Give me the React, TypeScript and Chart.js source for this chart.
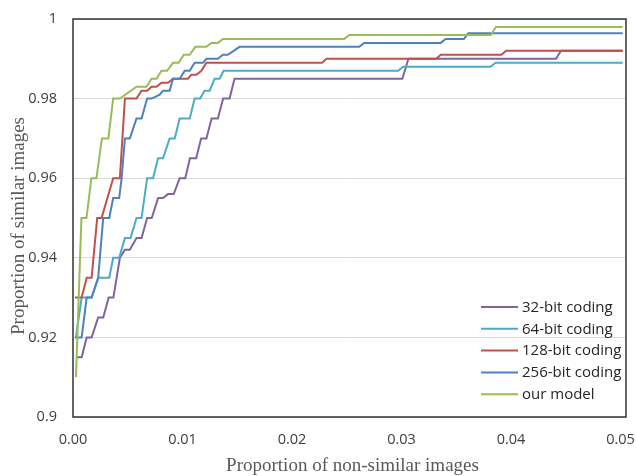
import React, { useEffect, useRef } from "react";
import { Chart, registerables } from "chart.js";

Chart.register(...registerables);

// ---------- data ----------
const SERIES_LABELS = ["32-bit coding", "64-bit coding", "128-bit coding", "256-bit coding", "our model"];
const SERIES_COLORS = ["#8064a2", "#4bacc6", "#c0504d", "#4f81bd", "#9bbb59"];

const X_TICKS = [0, 0.01, 0.02, 0.03, 0.04, 0.05];
const Y_TICKS = [0.9, 0.92, 0.94, 0.96, 0.98, 1];

const X_TITLE = "Proportion of non-similar images";
const Y_TITLE = "Proportion of similar images";

const bit32X = [0.00027, 0.00079, 0.00125, 0.0017, 0.0023, 0.00276, 0.00326, 0.00369, 0.00428, 0.00474, 0.00519, 0.0058, 0.00626, 0.00677, 0.00719, 0.00777, 0.00822, 0.00868, 0.0092, 0.00974, 0.01025, 0.01068, 0.01125, 0.0117, 0.01218, 0.01266, 0.01323, 0.01371, 0.0143, 0.01475, 0.03008, 0.03063, 0.04411, 0.04456, 0.0502];
const bit32Y = [0.915, 0.915, 0.92, 0.92, 0.925, 0.925, 0.93, 0.93, 0.94, 0.942, 0.942, 0.945, 0.945, 0.95, 0.95, 0.955, 0.955, 0.956, 0.956, 0.96, 0.96, 0.965, 0.965, 0.97, 0.97, 0.975, 0.975, 0.98, 0.98, 0.985, 0.985, 0.99, 0.99, 0.992, 0.992];

const bit64X = [0.00027, 0.00079, 0.0017, 0.0023, 0.00331, 0.00367, 0.00422, 0.00474, 0.00526, 0.0058, 0.00626, 0.00677, 0.00731, 0.00777, 0.00822, 0.00883, 0.00929, 0.00974, 0.01066, 0.01111, 0.01161, 0.01202, 0.01248, 0.01293, 0.01339, 0.01375, 0.02969, 0.03015, 0.03813, 0.03859, 0.0502];
const bit64Y = [0.92, 0.93, 0.93, 0.935, 0.935, 0.94, 0.94, 0.945, 0.945, 0.95, 0.95, 0.96, 0.96, 0.965, 0.965, 0.97, 0.97, 0.975, 0.975, 0.98, 0.98, 0.982, 0.982, 0.985, 0.985, 0.987, 0.987, 0.988, 0.988, 0.989, 0.989];

const bit128X = [0.00018, 0.00079, 0.00125, 0.0017, 0.00221, 0.00261, 0.00367, 0.00428, 0.00474, 0.0058, 0.00626, 0.00677, 0.00717, 0.00762, 0.00808, 0.00868, 0.00913, 0.0105, 0.01081, 0.01127, 0.01172, 0.01218, 0.02274, 0.02316, 0.03318, 0.03358, 0.03913, 0.03955, 0.0502];
const bit128Y = [0.93, 0.93, 0.935, 0.935, 0.95, 0.95, 0.96, 0.96, 0.98, 0.98, 0.982, 0.982, 0.983, 0.983, 0.984, 0.984, 0.985, 0.985, 0.986, 0.986, 0.987, 0.989, 0.989, 0.99, 0.99, 0.991, 0.991, 0.992, 0.992];

const bit256X = [0.00018, 0.00079, 0.00125, 0.0017, 0.0023, 0.00276, 0.00331, 0.00367, 0.00422, 0.00444, 0.00474, 0.00519, 0.0058, 0.00626, 0.00677, 0.00717, 0.00792, 0.00822, 0.00883, 0.00913, 0.00974, 0.0102, 0.01066, 0.01111, 0.01187, 0.01218, 0.01323, 0.01369, 0.01414, 0.01521, 0.02614, 0.02659, 0.03358, 0.03403, 0.0357, 0.03609, 0.0502];
const bit256Y = [0.92, 0.92, 0.93, 0.93, 0.935, 0.95, 0.95, 0.955, 0.955, 0.96, 0.97, 0.97, 0.975, 0.975, 0.98, 0.98, 0.981, 0.982, 0.982, 0.985, 0.985, 0.987, 0.987, 0.989, 0.989, 0.99, 0.99, 0.991, 0.991, 0.993, 0.993, 0.994, 0.994, 0.995, 0.995, 0.9964, 0.9964];

const oursX = [0.00027, 0.00077, 0.00123, 0.00168, 0.00214, 0.00264, 0.00323, 0.00367, 0.00428, 0.0058, 0.00671, 0.00717, 0.00762, 0.00808, 0.00859, 0.00913, 0.00965, 0.01011, 0.01066, 0.01117, 0.01218, 0.01263, 0.01323, 0.01369, 0.02477, 0.02523, 0.03816, 0.03862, 0.0502];
const oursY = [0.91, 0.95, 0.95, 0.96, 0.96, 0.97, 0.97, 0.98, 0.98, 0.983, 0.983, 0.985, 0.985, 0.987, 0.987, 0.989, 0.989, 0.991, 0.991, 0.993, 0.993, 0.994, 0.994, 0.995, 0.995, 0.996, 0.996, 0.998, 0.998];

const SERIES_X = [bit32X, bit64X, bit128X, bit256X, oursX];
const SERIES_Y = [bit32Y, bit64Y, bit128Y, bit256Y, oursY];

// ---------- decorations ----------
const decorPlugin = {
  id: "decor",
  afterDatasetsDraw(chart: any) {
    const { ctx, chartArea: a } = chart;
    ctx.save();
    // plot border
    ctx.strokeStyle = "#333333";
    ctx.lineWidth = 1.5;
    ctx.strokeRect(a.left, a.top, a.right - a.left, a.bottom - a.top);

    // legend (inside, bottom-right)
    ctx.font = '15px "Open Sans"';
    ctx.textBaseline = "middle";
    ctx.textAlign = "left";
    const lx = a.right - 145;
    chart.data.datasets.forEach((ds: any, i: number) => {
      const y = a.bottom - 110 + i * 21.8;
      ctx.strokeStyle = ds.borderColor;
      ctx.lineWidth = 2;
      ctx.beginPath();
      ctx.moveTo(lx, y);
      ctx.lineTo(lx + 37, y);
      ctx.stroke();
      ctx.fillStyle = "#262626";
      ctx.fillText(ds.label, lx + 41, y + 0.5);
    });

    // axis titles
    ctx.fillStyle = "#595959";
    ctx.font = '19px "Liberation Serif"';
    ctx.textAlign = "center";
    ctx.textBaseline = "middle";
    ctx.fillText(X_TITLE, (a.left + a.right) / 2 + 3, 466);
    ctx.translate(19.5, (a.top + a.bottom) / 2 + 8);
    ctx.rotate(-Math.PI / 2);
    ctx.fillText(Y_TITLE, 0, 0);
    ctx.restore();
  },
};

export default function App() {
  const ref = useRef<HTMLCanvasElement | null>(null);

  useEffect(() => {
    if (!ref.current) return;
    const datasets = SERIES_LABELS.map((label, i) => ({
      label,
      data: SERIES_X[i].map((x, j) => ({ x, y: SERIES_Y[i][j] })),
      borderColor: SERIES_COLORS[i],
      backgroundColor: SERIES_COLORS[i],
      borderWidth: 2,
      pointRadius: 0,
      tension: 0,
      fill: false,
      order: SERIES_LABELS.length - i,
    }));

    const chart = new Chart(ref.current, {
      type: "line",
      data: { datasets },
      plugins: [decorPlugin],
      options: {
        animation: false,
        responsive: false,
        devicePixelRatio: 1,
        layout: { padding: { top: 19, right: 10, bottom: 0, left: 0 } },
        plugins: { legend: { display: false }, tooltip: { enabled: false } },
        scales: {
          x: {
            type: "linear",
            min: 0,
            max: 0.0505,
            afterBuildTicks: (s: any) => {
              s.ticks = X_TICKS.map((v) => ({ value: v }));
            },
            afterFit: (s: any) => {
              s.height = 59;
              s.paddingLeft = 0;
              s.paddingRight = 0;
            },
            grid: { display: false, drawTicks: false },
            border: { display: false },
            ticks: {
              padding: 14,
              color: "#404040",
              font: { family: '"Open Sans"', size: 14.5 },
              callback: (v: any) => Number(v).toFixed(2),
              maxRotation: 0,
            },
          },
          y: {
            type: "linear",
            min: 0.9,
            max: 1,
            afterBuildTicks: (s: any) => {
              s.ticks = Y_TICKS.map((v) => ({ value: v }));
            },
            afterFit: (s: any) => {
              s.width = 73;
              s.paddingTop = 0;
              s.paddingBottom = 0;
            },
            grid: { color: "#d9d9d9", lineWidth: 1, drawTicks: false },
            border: { display: false },
            ticks: {
              padding: 16,
              color: "#404040",
              font: { family: '"Open Sans"', size: 14.5 },
              callback: (v: any) => String(parseFloat(Number(v).toFixed(2))),
            },
          },
        },
      },
    });
    return () => chart.destroy();
  }, []);

  return (
    <div style={{ position: "absolute", left: 0, top: 0, width: 636, height: 476, background: "#fff" }}>
      <canvas ref={ref} width={636} height={476} style={{ display: "block" }} />
    </div>
  );
}
